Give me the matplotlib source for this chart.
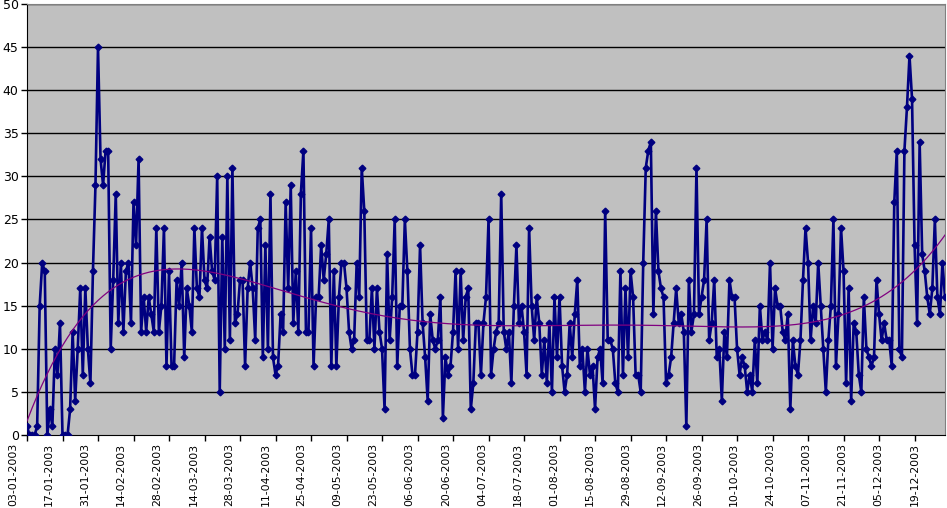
import numpy as np
import pandas as pd
import matplotlib
matplotlib.use("Agg")
import matplotlib.pyplot as plt
from matplotlib.transforms import ScaledTranslation

start_date = "2003-01-03"
values = [
    1, 0, 0, 0, 1, 15, 20, 19, 0, 3,
    1, 10, 7, 13, 0, 0, 0, 3, 12, 4,
    10, 17, 7, 17, 10, 6, 19, 29, 45, 32,
    29, 33, 33, 10, 18, 28, 13, 20, 12, 19,
    20, 13, 27, 22, 32, 12, 16, 12, 16, 14,
    12, 24, 12, 15, 24, 8, 19, 8, 8, 18,
    15, 20, 9, 17, 15, 12, 24, 17, 16, 24,
    18, 17, 23, 19, 18, 30, 5, 23, 10, 30,
    11, 31, 13, 14, 18, 18, 8, 17, 20, 17,
    11, 24, 25, 9, 22, 10, 28, 9, 7, 8,
    14, 12, 27, 17, 29, 13, 19, 12, 28, 33,
    12, 12, 24, 8, 16, 16, 22, 18, 21, 25,
    8, 19, 8, 16, 20, 20, 17, 12, 10, 11,
    20, 16, 31, 26, 11, 11, 17, 10, 17, 12,
    10, 3, 21, 11, 16, 25, 8, 15, 15, 25,
    19, 10, 7, 7, 12, 22, 13, 9, 4, 14,
    11, 10, 11, 16, 2, 9, 7, 8, 12, 19,
    10, 19, 11, 16, 17, 3, 6, 13, 13, 7,
    13, 16, 25, 7, 10, 12, 13, 28, 12, 10,
    12, 6, 15, 22, 13, 15, 12, 7, 24, 15,
    11, 16, 13, 7, 11, 6, 13, 5, 16, 9,
    16, 8, 5, 7, 13, 9, 14, 18, 8, 10,
    5, 10, 7, 8, 3, 9, 10, 6, 26, 11,
    11, 10, 6, 5, 19, 7, 17, 9, 19, 16,
    7, 7, 5, 20, 31, 33, 34, 14, 26, 19,
    17, 16, 6, 7, 9, 13, 17, 13, 14, 12,
    1, 18, 12, 14, 31, 14, 16, 18, 25, 11,
    13, 18, 9, 10, 4, 12, 9, 18, 16, 16,
    10, 7, 9, 8, 5, 7, 5, 11, 6, 15,
    11, 12, 11, 20, 10, 17, 15, 15, 12, 11,
    14, 3, 11, 8, 7, 11, 18, 24, 20, 11,
    15, 13, 20, 15, 10, 5, 11, 15, 25, 8,
    14, 24, 19, 6, 17, 4, 13, 12, 7, 5,
    16, 10, 9, 8, 9, 18, 14, 11, 13, 11,
    11, 8, 27, 33, 10, 9, 33, 38, 44, 39,
    22, 13, 34, 21, 19, 16, 14, 17, 25, 16,
    14, 20, 16,
]
tick_labels = [
    "03-01-2003", "17-01-2003", "31-01-2003", "14-02-2003", "28-02-2003",
    "14-03-2003", "28-03-2003", "11-04-2003", "25-04-2003", "09-05-2003",
    "23-05-2003", "06-06-2003", "20-06-2003", "04-07-2003", "18-07-2003",
    "01-08-2003", "15-08-2003", "29-08-2003", "12-09-2003", "26-09-2003",
    "10-10-2003", "24-10-2003", "07-11-2003", "21-11-2003", "05-12-2003",
    "19-12-2003",
]
y_ticks = [0, 5, 10, 15, 20, 25, 30, 35, 40, 45, 50]
trend_degree = 6

dates = pd.date_range(start_date, periods=len(values), freq="D")
x = (dates - dates[0]).days.values.astype(float)
y = np.array(values, dtype=float)
tick_pos = [(pd.to_datetime(t, format="%d-%m-%Y") - dates[0]).days for t in tick_labels]

# polynomial trendline (as in the spreadsheet)
xs = x / x.max()
coef = np.polyfit(xs, y, trend_degree)
trend = np.polyval(coef, xs)

fig = plt.figure(figsize=(9.47, 5.08), dpi=100)
ax = fig.add_axes([27/947, 1-435/508, (945-27)/947, (435-4)/508])
ax.set_facecolor("#C0C0C0")
for v in y_ticks[1:]:
    ax.axhline(v, color="black", lw=1.0, zorder=1)
ax.plot(x, y, color="#000080", lw=1.9, marker="D", markersize=3.4, zorder=3)
ax.plot(x, trend, color="#800080", lw=0.9, zorder=4)

ax.set_xlim(0, x.max())
ax.set_ylim(0, 50)
ax.set_yticks(y_ticks)
ax.set_yticklabels([str(v) for v in y_ticks], fontsize=9)
ax.set_xticks(tick_pos)
ax.set_xticklabels(tick_labels, rotation=90, fontsize=7.8)
ax.tick_params(axis="both", direction="out", length=4, width=1, colors="black", pad=2)
ax.tick_params(axis="x", pad=1.5)
# spreadsheet-style label placement (slightly left of the ticks early in the year)
for k, lab in enumerate(ax.get_xticklabels()):
    dx = (-14 + 0.56 * k) / 100.0
    lab.set_transform(lab.get_transform() + ScaledTranslation(dx, 0, fig.dpi_scale_trans))
for s in ["top", "right"]:
    ax.spines[s].set_color("#808080")
for s in ["left", "bottom"]:
    ax.spines[s].set_color("black")
fig.savefig("out.png", dpi=100, facecolor="white")
